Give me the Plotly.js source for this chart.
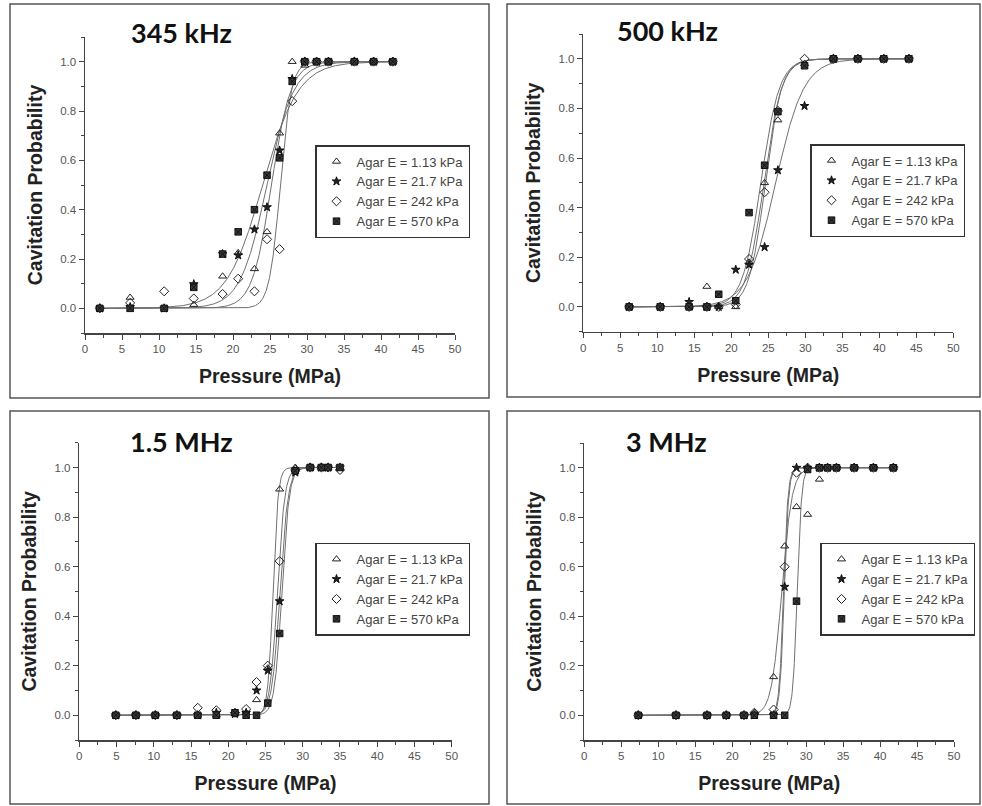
<!DOCTYPE html>
<html><head><meta charset="utf-8">
<script src="https://cdn.plot.ly/plotly-3.0.1.min.js"></script>
<style>html,body{margin:0;padding:0;background:#fff}#chart{width:982px;height:806px}</style>
</head><body><div id="chart"></div>
<script>
// ---------- text ----------
const seriesNames = ['Agar E = 1.13 kPa', 'Agar E = 21.7 kPa', 'Agar E = 242 kPa', 'Agar E = 570 kPa'];
const panelTitles = ['345 kHz', '500 kHz', '1.5 MHz', '3 MHz'];
const xAxisTitle = 'Pressure (MPa)';
const yAxisTitle = 'Cavitation Probability';
const xTickVals = [0, 5, 10, 15, 20, 25, 30, 35, 40, 45, 50];
const yTickVals = [0.0, 0.2, 0.4, 0.6, 0.8, 1.0];

// ---------- 345 kHz ----------
const p345_x    = [2.0, 6.1, 10.7, 14.7, 18.6, 20.7, 22.9, 24.6, 26.3, 28.0, 29.7, 31.3, 32.9, 36.4, 39.0, 41.6];
const p345_E113 = [0, 0.044, 0.0, 0.015, 0.13, 0.225, 0.16, 0.31, 0.71, 1.0, 0.985, 1, 1, 1, 1, 1];
const p345_E217 = [0, 0.005, 0.0, 0.098, 0.22, 0.215, 0.32, 0.41, 0.64, 0.93, 1, 1, 1, 1, 1, 1];
const p345_E242 = [0, 0.022, 0.069, 0.04, 0.058, 0.12, 0.069, 0.28, 0.24, 0.84, 1, 1, 1, 1, 1, 1];
const p345_E570 = [0, 0.0, 0.0, 0.085, 0.22, 0.31, 0.40, 0.54, 0.61, 0.92, 1, 1, 1, 1, 1, 1];
const p345_fitCenter = [25.2, 24.6, 26.4, 24.0];
const p345_fitWidth  = [1.3, 1.8, 0.75, 2.4];

// ---------- 500 kHz ----------
const p500_x    = [6.2, 10.4, 14.3, 16.7, 18.3, 20.6, 22.4, 24.5, 26.3, 29.9, 33.8, 37.1, 40.6, 44.0];
const p500_E113 = [0, 0, 0.0, 0.082, 0.0, 0.0, 0.18, 0.50, 0.753, 0.98, 1, 1, 1, 1];
const p500_E217 = [0, 0, 0.02, 0, 0, 0.15, 0.17, 0.241, 0.551, 0.81, 1, 1, 1, 1];
const p500_E242 = [0, 0, 0, 0, 0, 0.01, 0.193, 0.462, 0.79, 1.0, 1, 1, 1, 1];
const p500_E570 = [0, 0, 0, 0, 0.051, 0.025, 0.38, 0.571, 0.787, 0.972, 1, 1, 1, 1];
const p500_fitCenter = [24.4, 26.0, 24.6, 24.0];
const p500_fitWidth  = [1.2, 1.9, 1.1, 1.25];

// ---------- 1.5 MHz ----------
const p1500_x    = [4.9, 7.6, 10.2, 13.1, 15.9, 18.4, 20.9, 22.4, 23.8, 25.3, 26.9, 29.0, 31.0, 32.5, 33.4, 35.0];
const p1500_E113 = [0, 0, 0, 0, 0, 0, 0.005, 0.01, 0.062, 0.19, 0.912, 1, 1, 1, 1, 1];
const p1500_E217 = [0, 0, 0, 0, 0, 0.01, 0.005, 0.01, 0.10, 0.18, 0.46, 0.98, 1, 1, 1, 1];
const p1500_E242 = [0, 0, 0, 0, 0.03, 0.02, 0.01, 0.025, 0.134, 0.20, 0.622, 0.99, 1, 1, 1, 0.99];
const p1500_E570 = [0, 0, 0, 0, 0, 0, 0.01, 0.0, 0.0, 0.049, 0.33, 0.987, 1, 1, 1, 1];
const p1500_fitCenter = [26.0, 26.95, 26.6, 27.2];
const p1500_fitWidth  = [0.35, 0.55, 0.5, 0.5];

// ---------- 3 MHz ----------
const p3000_x    = [7.3, 12.4, 16.6, 19.2, 21.6, 23.0, 25.6, 27.1, 28.7, 30.2, 31.8, 32.9, 34.1, 36.5, 39.1, 41.8];
const p3000_E113 = [0, 0, 0, 0, 0, 0.01, 0.155, 0.683, 0.842, 0.811, 0.953, 1, 1, 1, 1, 1];
const p3000_E217 = [0, 0, 0, 0, 0, 0.0, 0.0, 0.519, 1.0, 1, 1, 1, 1, 1, 1, 1];
const p3000_E242 = [0, 0, 0, 0, 0, 0.01, 0.023, 0.60, 0.98, 1, 1, 1, 1, 1, 1, 1];
const p3000_E570 = [0, 0, 0, 0, 0, 0, 0, 0, 0.461, 0.993, 1, 1, 1, 1, 1, 1];
const p3000_fitCenter = [26.7, 27.05, 26.95, 28.8];
const p3000_fitWidth  = [0.7, 0.3, 0.3, 0.3];

const panels = [
  {x: p345_x,  ys: [p345_E113, p345_E217, p345_E242, p345_E570],  c: p345_fitCenter,  w: p345_fitWidth},
  {x: p500_x,  ys: [p500_E113, p500_E217, p500_E242, p500_E570],  c: p500_fitCenter,  w: p500_fitWidth},
  {x: p1500_x, ys: [p1500_E113, p1500_E217, p1500_E242, p1500_E570], c: p1500_fitCenter, w: p1500_fitWidth},
  {x: p3000_x, ys: [p3000_E113, p3000_E217, p3000_E242, p3000_E570], c: p3000_fitCenter, w: p3000_fitWidth}
];

// ---------- styles / geometry (pixels on a 982x806 page) ----------
const W = 982, H = 806;
const plotBoxes = [ // left, right, top, bottom of the axes area
  [85, 455, 37, 333],
  [583.3, 953.3, 34, 331.7],
  [79.3, 451.7, 442.7, 740],
  [584.3, 954, 443, 740]
];
const frames = [[10, 4, 489, 398], [507, 4, 980, 397], [10, 411, 489, 804], [507, 411, 980, 804]];
const titlePos = [[129, 32], [615, 30], [128, 441.7], [624, 442]];
const legendPos = [[315, 145], [810, 144], [315, 542.7], [820, 542.7]];
const markerSymbols = ['triangle-up-open', 'star', 'diamond-open', 'square-x'];
const markerSizes = [7, 6.5, 7, 6.5];

const traces = [];
const layout = {
  width: W, height: H, margin: {l: 0, r: 0, t: 0, b: 0},
  paper_bgcolor: '#fff', plot_bgcolor: '#fff', showlegend: true,
  shapes: [], annotations: []
};
const tickFont = {family: 'Liberation Sans, Arial, sans-serif', size: 11.5, color: '#555'};
const titleFont = {family: 'Liberation Sans, Arial, sans-serif', size: 19.5, color: '#222', weight: 'bold'};

panels.forEach((p, i) => {
  const n = i + 1;
  const xa = 'x' + (n === 1 ? '' : n), ya = 'y' + (n === 1 ? '' : n);
  const legId = n === 1 ? 'legend' : 'legend' + n;
  const [L, R, T, B] = plotBoxes[i];
  layout['xaxis' + (n === 1 ? '' : n)] = {
    domain: [L / W, R / W], anchor: ya, range: [0, 50],
    tickvals: xTickVals, ticks: 'outside', ticklen: 5, tickwidth: 1, tickcolor: '#444',
    minor: {tickvals: [2.5, 7.5, 12.5, 17.5, 22.5, 27.5, 32.5, 37.5, 42.5, 47.5], ticks: 'outside', ticklen: 3, tickcolor: '#444'},
    showline: true, linecolor: '#444', linewidth: 1.5, showgrid: false, zeroline: false,
    tickfont: tickFont, fixedrange: true,
    title: {text: xAxisTitle, font: titleFont, standoff: 15}
  };
  layout['yaxis' + (n === 1 ? '' : n)] = {
    domain: [1 - B / H, 1 - T / H], anchor: xa, range: [-0.1, 1.1],
    tickvals: yTickVals, tickformat: '.1f', ticks: 'outside', ticklen: 5, tickwidth: 1, tickcolor: '#444',
    minor: {tickvals: [-0.1, 0.1, 0.3, 0.5, 0.7, 0.9, 1.1], ticks: 'outside', ticklen: 3, tickcolor: '#444'},
    showline: true, linecolor: '#444', linewidth: 1.5, showgrid: false, zeroline: false,
    tickfont: tickFont, fixedrange: true,
    title: {text: yAxisTitle, font: titleFont, standoff: 12}
  };
  // fit curves (Boltzmann fits, parameters)
  const xmin = p.x[0], xmax = p.x[p.x.length - 1];
  p.ys.forEach((ys, k) => {
    const cx = [], cy = [];
    for (let xv = xmin; xv <= xmax + 1e-9; xv += 0.05) {
      cx.push(xv); cy.push(1 / (1 + Math.exp((p.c[k] - xv) / p.w[k])));
    }
    traces.push({x: cx, y: cy, xaxis: xa, yaxis: ya, mode: 'lines', showlegend: false, hoverinfo: 'skip',
      line: {color: '#707070', width: 1}, legend: legId});
  });
  // data markers
  p.ys.forEach((ys, k) => {
    traces.push({x: p.x, y: ys, xaxis: xa, yaxis: ya, mode: 'markers', name: seriesNames[k], legend: legId,
      marker: {symbol: markerSymbols[k], size: markerSizes[k], color: k === 3 ? '#3a3a3a' : '#222',
        line: {color: '#111', width: 1}}});
  });
  layout[legId] = {
    x: legendPos[i][0] / W, y: 1 - legendPos[i][1] / H, xanchor: 'left', yanchor: 'top',
    bgcolor: '#fff', bordercolor: '#333', borderwidth: 1.5,
    font: {family: 'Liberation Sans, Arial, sans-serif', size: 13, color: '#444'},
    itemwidth: 30, tracegroupgap: 0
  };
  const [fx0, fy0, fx1, fy1] = frames[i];
  layout.shapes.push({type: 'rect', xref: 'paper', yref: 'paper', x0: fx0 / W, x1: fx1 / W,
    y0: 1 - fy1 / H, y1: 1 - fy0 / H, line: {color: '#555', width: 1.5}});
  layout.annotations.push({text: panelTitles[i], xref: 'paper', yref: 'paper',
    x: titlePos[i][0] / W, y: 1 - titlePos[i][1] / H, xanchor: 'left', yanchor: 'middle', showarrow: false,
    font: {family: 'Lato, Open Sans, sans-serif', size: 27, color: '#111', weight: 'bold'}});
});

Plotly.newPlot('chart', traces, layout, {displayModeBar: false, staticPlot: true});
</script></body></html>
